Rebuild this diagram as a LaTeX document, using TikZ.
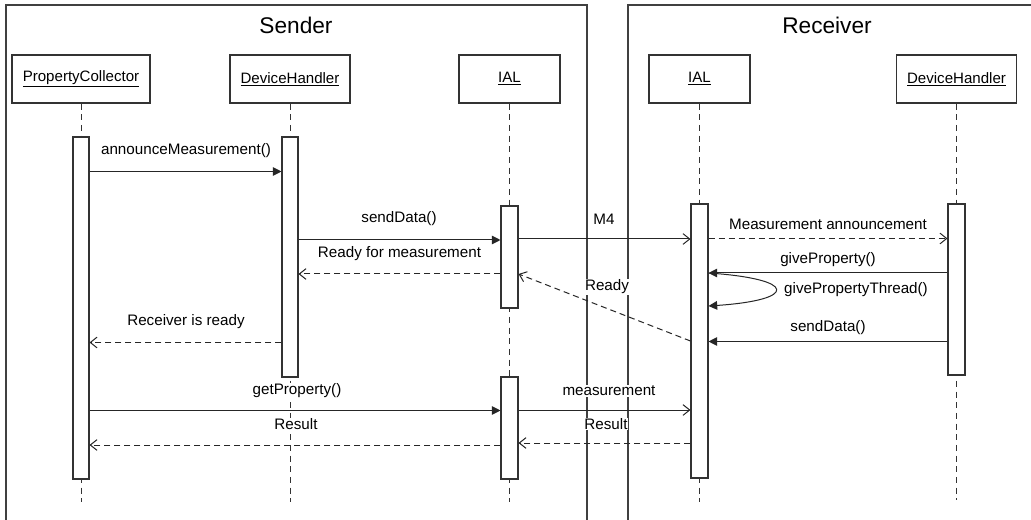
\documentclass[tikz,border=0pt]{standalone}
\usepackage{fontspec}
\setmainfont{Liberation Sans}
\usetikzlibrary{arrows.meta,fit}
\begin{document}
\begin{tikzpicture}[x=0.75pt,y=-0.75pt,
 frame/.style={draw=black!75, line width=1.1pt},
 title/.style={font=\fontsize{17}{20}\selectfont, inner sep=0pt},
 head/.style={draw=black!80, line width=0.8pt, fill=white, minimum height=36pt, inner sep=0pt, font=\fontsize{11.3}{13}\selectfont},
 bar/.style={draw=black!80, line width=0.8pt, fill=white, inner sep=0pt},
 life/.style={draw=black!80, line width=0.75pt, dash pattern=on 4.5pt off 3.5pt},
 lbl/.style={font=\fontsize{11.4}{13}\selectfont, inner sep=0.5pt, fill=white},
 call/.style={draw=black!85, line width=0.75pt, -{Triangle[length=6.5pt,width=6.5pt]}},
 async/.style={draw=black!85, line width=0.75pt, -{Straight Barb[length=5pt,width=8pt]}},
 reply/.style={async, dash pattern=on 4.5pt off 3pt},
]
\useasboundingbox (0,0) rectangle (1031,520);
\fill[white] (0,0) rectangle (1031,520);

% frames
\draw[frame] (6,522) -- (6,5) -- (587,5) -- (587,522);
\draw[frame] (628,522) -- (628,5) -- (1033,5);
\node[title] (tsend) at (296,25) {Sender};
\node[title] (trecv) at (827,25) {Receiver};

% heads
\node[head, minimum width=103.5pt] (pc) at (81,79) {\underline{PropertyCollector}};
\node[head, minimum width=90pt] (dh) at (290,79) {\underline{DeviceHandler}};
\node[head, minimum width=75.75pt] (ials) at (509.5,79) {\underline{IAL}};
\node[head, minimum width=75.75pt] (ialr) at (699.5,79) {\underline{IAL}};
\node[head, minimum width=90pt] (dhr) at (956.5,79) {\underline{DeviceHandler}};

% lifelines
\draw[life] (pc.south) -- (pc.south |- 0,502);
\draw[life] (dh.south) -- (dh.south |- 0,502);
\draw[life] (ials.south) -- (ials.south |- 0,502);
\draw[life] (ialr.south) -- (ialr.south |- 0,502);
\draw[life] (dhr.south) -- (dhr.south |- 0,500);

% activation bars
\node[bar, fit={(73,137) (89,479)}] (pcb) {};
\node[bar, fit={(282,137) (298,377)}] (dhb) {};
\node[bar, fit={(501,206) (518,308)}] (ialsb1) {};
\node[bar, fit={(501,377) (518,479)}] (ialsb2) {};
\node[bar, fit={(691,204) (708,478)}] (ialrb) {};
\node[bar, fit={(948,204) (965,375)}] (dhrb) {};

% messages
\draw[call] (pcb.east |- 0,171.5) -- (dhb.west |- 0,171.5);
\draw[call] (dhb.east |- 0,240) -- (ialsb1.west |- 0,240);
\draw[async] (ialsb1.east |- 0,239) -- (ialrb.west |- 0,239);
\draw[reply] (ialsb1.west |- 0,274) -- (dhb.east |- 0,274);
\draw[reply] (ialrb.east |- 0,238.5) -- (dhrb.west |- 0,238.5);
\draw[call] (dhrb.west |- 0,273) -- (ialrb.east |- 0,273);
\draw[call] (ialrb.east |- 0,273) .. controls (798,279) and (798,300) .. (ialrb.east |- 0,306);
\draw[reply] (ialrb.west |- 0,341) -- (ialsb1.east |- 0,274);
\draw[call] (dhrb.west |- 0,341.5) -- (ialrb.east |- 0,341.5);
\draw[reply] (dhb.west |- 0,342.5) -- (pcb.east |- 0,342.5);
\draw[call] (pcb.east |- 0,410.5) -- (ialsb2.west |- 0,410.5);
\draw[async] (ialsb2.east |- 0,410) -- (ialrb.west |- 0,410);
\draw[reply] (ialrb.west |- 0,443) -- (ialsb2.east |- 0,443);
\draw[reply] (ialsb2.west |- 0,445) -- (pcb.east |- 0,445);

% labels
\node[lbl] (m1) at (186,151) {announceMeasurement()};
\node[lbl] (m2) at (399,219) {sendData()};
\node[lbl] (m3) at (604,219) {M4};
\node[lbl] (m4) at (399.5,254) {Ready for measurement};
\node[lbl] (m5) at (828,224) {Measurement announcement};
\node[lbl] (m6) at (828,260) {giveProperty()};
\node[lbl] (m7) at (856,290) {givePropertyThread()};
\node[lbl] (m8) at (607,287) {Ready};
\node[lbl] (m9) at (828,328) {sendData()};
\node[lbl] (m10) at (186,322) {Receiver is ready};
\node[lbl] (m11) at (297,391) {getProperty()};
\node[lbl] (m12) at (609,391) {measurement};
\node[lbl] (m13) at (606,424) {Result};
\node[lbl] (m14) at (296,424) {Result};
\end{tikzpicture}
\end{document}
